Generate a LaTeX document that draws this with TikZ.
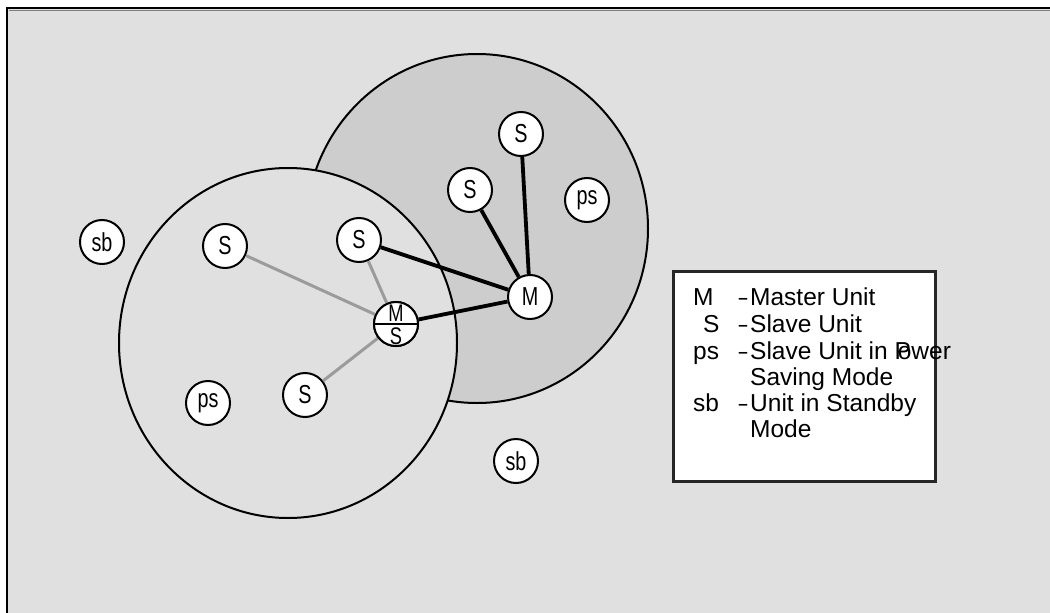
\documentclass[tikz,border=0pt]{standalone}
\usepackage{fontspec}
\setmainfont{Liberation Sans}
\newfontfamily\nodefont[FakeStretch=0.76]{Liberation Sans}
\definecolor{bgray}{RGB}{224,224,224}
\definecolor{dgray}{RGB}{205,205,205}
\definecolor{lgray}{RGB}{155,155,155}
\tikzset{
  unit/.style={circle, draw, line width=2pt, fill=white, minimum size=44pt, inner sep=0pt,
    font=\nodefont\fontsize{26}{26}\selectfont},
  masterlink/.style={line width=3.8pt, black},
  slavelink/.style={line width=3pt, lgray},
  legtext/.style={anchor=base west, inner sep=0pt, font=\fontsize{24.5}{24.5}\selectfont},
  legdash/.style={anchor=base, inner sep=0pt, font=\fontsize{24.5}{24.5}\selectfont},
  halflabel/.style={anchor=base, inner sep=0pt, font=\nodefont\fontsize{24}{24}\selectfont},
}
\newcommand{\legdashsym}{\scalebox{0.62}[1]{--}}
\begin{document}
\begin{tikzpicture}[x=1pt,y=-1pt]
\useasboundingbox (0,0) rectangle (1050,613);
% frame
\fill[bgray] (7,8) rectangle (1050,613);
\draw[gray, line width=1pt] (9,10) -- (1050,10);
\draw[line width=2.5pt, black] (7,613) -- (7,8) -- (1050,8);
% piconets
\draw[line width=2pt, fill=dgray] (477,228.5) ellipse [x radius=171, y radius=174.5];
\draw[line width=2pt, fill=bgray] (288,343) ellipse [x radius=169, y radius=175];
% nodes
\node[unit] (sb1) at (102,242) {sb};
\node[unit] (s1) at (225,246) {S};
\node[unit] (s2) at (359,240) {S};
\node[unit] (ms) at (396,324) {};
\node[unit] (m) at (530,297) {M};
\node[unit] (s3) at (470,190) {S};
\node[unit] (s4) at (521,134) {S};
\node[unit] (ps1) at (587,200) {ps};
\node[unit] (ps2) at (208,403) {ps};
\node[unit] (s5) at (305,395) {S};
\node[unit] (sb2) at (516,461) {sb};
% links
\draw[slavelink] (ms) -- (s1);
\draw[slavelink] (ms) -- (s2);
\draw[slavelink] (ms) -- (s5);
\draw[masterlink] (m) -- (s2);
\draw[masterlink] (m) -- (s3);
\draw[masterlink] (m) -- (s4);
\draw[masterlink] (m) -- (ms);
% master/slave node on top of the links
\node[unit] (ms2) at (396,324) {};
\draw[line width=2pt] (ms2.west) -- (ms2.east);
\node[halflabel] (msm) at (396,321.5) {M};
\node[halflabel] (mss) at (396,344) {S};
% legend
\node[draw=black!85, line width=2.5pt, fill=white, minimum width=262pt, minimum height=210pt, anchor=north west, inner sep=0pt] (legend) at (672,270) {};
\node[legtext] (lm) at (693,305) {M};
\node[legdash] (dm) at (743,305) {\legdashsym};
\node[legtext] (tm) at (750,305) {Master Unit};
\node[legtext] (ls) at (703,332) {S};
\node[legdash] (ds) at (743,332) {\legdashsym};
\node[legtext] (ts) at (750,332) {Slave Unit};
\node[legtext] (lps) at (693,359) {ps};
\node[legdash] (dps) at (743,359) {\legdashsym};
\node[legtext] (tps) at (750,359) {Slave Unit in P\kern-13pt ower};
\node[legtext] (tps2) at (750,385) {Saving Mode};
\node[legtext] (lsb) at (693,411) {sb};
\node[legdash] (dsb) at (743,411) {\legdashsym};
\node[legtext] (tsb) at (750,411) {Unit in Standby};
\node[legtext] (tsb2) at (750,437) {Mode};
\end{tikzpicture}
\end{document}
